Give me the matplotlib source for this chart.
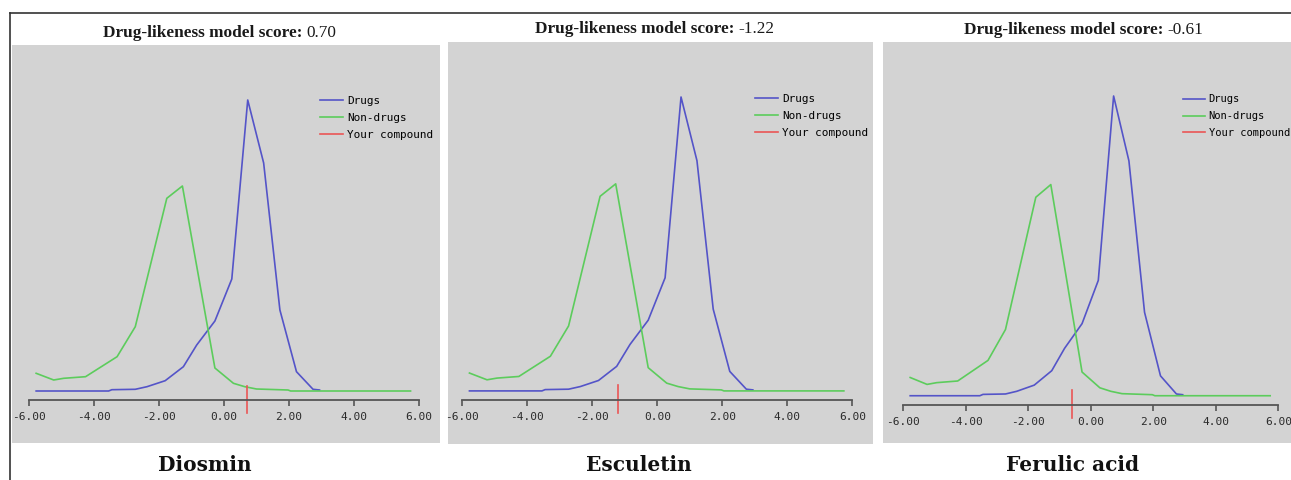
import numpy as np
import matplotlib
matplotlib.use("Agg")
import matplotlib.pyplot as plt
from matplotlib.lines import Line2D
from matplotlib.patches import Rectangle

# shared score distributions (x = model score, y = height above baseline)
drug_x = [-5.78, -3.55, -3.45, -2.73, -2.37, -1.81, -1.25, -0.84, -0.28, 0.24,
          0.73, 1.22, 1.72, 2.23, 2.74, 2.94]
drug_y = [0, 0, 1.3, 1.7, 4.3, 10.3, 24.3, 46, 70, 112,
          291, 228, 81, 19.3, 1.7, 1]

nondrug_x = [-5.78, -5.24, -4.93, -4.26, -3.29, -2.73, -1.76, -1.28, -0.28, 0.29,
             0.64, 1.00, 1.97, 2.05, 5.74]
nondrug_y = [17.7, 11, 12.7, 14.3, 34.3, 64.3, 192.7, 205, 23, 7.7,
             4.3, 2, 1, 0, 0]

compounds = ["Diosmin", "Esculetin", "Ferulic acid"]
scores = [0.70, -1.22, -0.61]
score_labels = ["0.70", "-1.22", "-0.61"]
tick_values = [-6, -4, -2, 0, 2, 4, 6]
legend_labels = ["Drugs", "Non-drugs", "Your compound"]

BLUE = "#5454c8"
GREEN = "#5ccc5c"
RED = "#ea5656"
BG = "#d3d3d3"

W, H = 1291, 480


def fx(px):
    return px / W


def fy(py):
    return 1 - py / H


# pixel layout of each panel
layout = [
    dict(gray=(12, 45, 440, 443), xm6=29, x6=419, axis_y=400, k=1.0,
         title_x=302, title_y=33, name_x=205, leg_x=320, leg_y=99, leg_fs=7.9),
    dict(gray=(448, 42, 873, 444), xm6=462.3, x6=852.3, axis_y=400, k=1.01,
         title_x=734, title_y=29, name_x=639, leg_x=755, leg_y=97, leg_fs=7.9),
    dict(gray=(883, 42, 1291, 443), xm6=903.3, x6=1278.3, axis_y=405, k=1.03,
         title_x=1163, title_y=30, name_x=1073, leg_x=1183, leg_y=98, leg_fs=7.5),
]

fig = plt.figure(figsize=(W / 100, H / 100), dpi=100)
fig.patch.set_facecolor("white")

# outer frame
fig.add_artist(Line2D([fx(10), fx(10)], [fy(13), fy(480)], color="#333333", lw=1.2))
fig.add_artist(Line2D([fx(10), fx(1291)], [fy(13), fy(13)], color="#333333", lw=1.2))

for i, lay in enumerate(layout):
    gx0, gy0, gx1, gy1 = lay["gray"]
    fig.add_artist(Rectangle((fx(gx0), fy(gy1)), fx(gx1) - fx(gx0), fy(gy0) - fy(gy1),
                             facecolor=BG, edgecolor="none", zorder=0))

    top_px = lay["axis_y"] - 309 * lay["k"]
    ax = fig.add_axes([fx(lay["xm6"]), fy(lay["axis_y"]),
                       fx(lay["x6"]) - fx(lay["xm6"]), fy(top_px) - fy(lay["axis_y"])])
    ax.set_facecolor("none")
    ax.set_xlim(-6, 6)
    ax.set_ylim(-9, 300)

    ax.plot(drug_x, drug_y, color=BLUE, lw=1.2, clip_on=False)
    ax.plot(nondrug_x, nondrug_y, color=GREEN, lw=1.2, clip_on=False)
    ax.plot([scores[i], scores[i]], [5.5, -22], color=RED, lw=1.2, clip_on=False)

    for s in ["top", "left", "right"]:
        ax.spines[s].set_visible(False)
    ax.spines["bottom"].set_color("#555555")
    ax.spines["bottom"].set_linewidth(1.3)
    ax.set_yticks([])
    ax.set_xticks(tick_values)
    ax.set_xticklabels(["%.2f" % v for v in tick_values],
                       family="DejaVu Sans Mono", fontsize=8, color="#2a2a2a")
    ax.tick_params(axis="x", direction="out", length=4, width=1.2,
                   color="#555555", pad=4.5)

    handles = [Line2D([], [], color=c, lw=1.2) for c in (BLUE, GREEN, RED)]
    ax.legend(handles, legend_labels, loc="upper left", frameon=False,
              bbox_to_anchor=(fx(lay["leg_x"]), fy(lay["leg_y"] - 3.5)),
              bbox_transform=fig.transFigure, borderpad=0, borderaxespad=0,
              handlelength=2.1, handletextpad=0.35, labelspacing=0.64,
              prop=dict(family="DejaVu Sans Mono", size=lay["leg_fs"]))

    # title: bold caption + plain value
    fig.text(fx(lay["title_x"]), fy(lay["title_y"]), "Drug-likeness model score:",
             ha="right", va="center", family="Liberation Serif", weight="bold",
             fontsize=12.4, color="#1a1a1a")
    fig.text(fx(lay["title_x"] + 4), fy(lay["title_y"]), score_labels[i],
             ha="left", va="center", family="Liberation Serif",
             fontsize=12.4, color="#1a1a1a")

    fig.text(fx(lay["name_x"]), fy(465), compounds[i], ha="center", va="center",
             family="DejaVu Serif", weight="bold", fontsize=14.5, color="#111111")

fig.savefig("out.png", dpi=100)
